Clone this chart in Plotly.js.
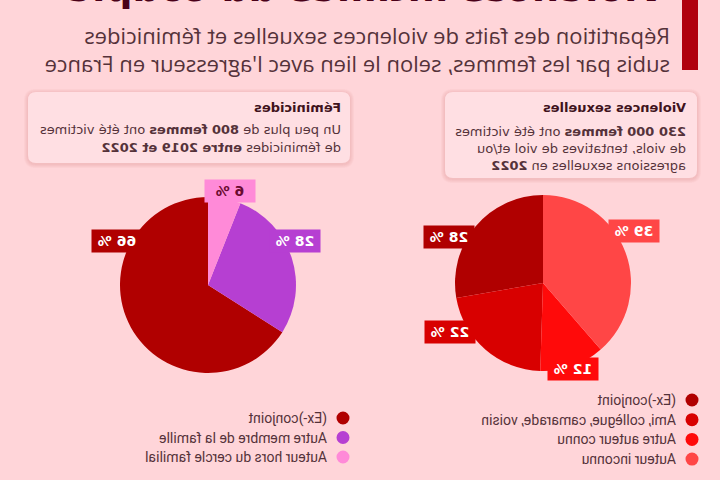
<!DOCTYPE html>
<html>
<head>
<meta charset="utf-8">
<script src="https://cdn.plot.ly/plotly-3.0.1.min.js"></script>
<style>
  html, body { margin: 0; padding: 0; background: #ffd5d9; }
  #chart { width: 720px; height: 480px; transform: scaleX(-1); transform-origin: center; }
</style>
</head>
<body>
<div id="chart"></div>
<script>
// ---------- DATA ----------
const vsTitle = "Violences sexuelles";
const vsLabels = ["(Ex-)conjoint", "Ami, collègue, camarade, voisin", "Autre auteur connu", "Auteur inconnu"];
const vsValues = [28, 22, 12, 39];
const vsColors = ["#b00000", "#d80000", "#ff0a0a", "#ff4646"];

const femTitle = "Féminicides";
const femLabels = ["(Ex-)conjoint", "Autre membre de la famille", "Auteur hors du cercle familial"];
const femValues = [66, 28, 6];
const femColors = ["#b00000", "#b63fd2", "#ff8ad8"];

const mainTitle = "Violences intimes du couple";
const subtitleLines = ["Répartition des faits de violences sexuelles et féminicides",
                       "subis par les femmes, selon le lien avec l'agresseur en France"];
const vsNote = ["<b>230 000 femmes</b> ont été victimes", "de viols, tentatives de viol et/ou", "agressions sexuelles en <b>2022</b>"];
const femNote = ["Un peu plus de <b>800 femmes</b> ont été victimes", "de féminicides <b>entre 2019 et 2022</b>"];

// ---------- LAYOUT HELPERS ----------
const W = 720, H = 480;
const X = p => p / W;
const Y = p => 1 - p / H;
const dark = "#40131c";
const textCol = "#55323a";

function rrect(x0, y0, x1, y1, r) {
  return `M ${X(x0 + r)} ${Y(y0)} L ${X(x1 - r)} ${Y(y0)} Q ${X(x1)} ${Y(y0)} ${X(x1)} ${Y(y0 + r)} ` +
         `L ${X(x1)} ${Y(y1 - r)} Q ${X(x1)} ${Y(y1)} ${X(x1 - r)} ${Y(y1)} ` +
         `L ${X(x0 + r)} ${Y(y1)} Q ${X(x0)} ${Y(y1)} ${X(x0)} ${Y(y1 - r)} ` +
         `L ${X(x0)} ${Y(y0 + r)} Q ${X(x0)} ${Y(y0)} ${X(x0 + r)} ${Y(y0)} Z`;
}

const shapes = [];
const annotations = [];

// header bar
shapes.push({type: "rect", xref: "paper", yref: "paper", x0: X(22), x1: X(38), y0: Y(70), y1: Y(-5),
             fillcolor: "#b0000e", line: {width: 0}});

// panels with soft shadow
function panel(x0, y0, x1, y1) {
  for (let i = 4; i >= 1; i--) {
    shapes.push({type: "path", xref: "paper", yref: "paper", path: rrect(x0 - i, y0 - i + 1, x1 + i, y1 + i + 1, 8 + i),
                 fillcolor: "rgba(200,90,100,0.05)", line: {width: 0}});
  }
  shapes.push({type: "path", xref: "paper", yref: "paper", path: rrect(x0, y0, x1, y1, 8),
               fillcolor: "#ffdfe3", line: {width: 0}});
}
panel(23, 92, 275, 178);
panel(370, 92, 692, 163);

function txt(text, x, y, size, color, family, extra) {
  annotations.push(Object.assign({text: text, x: X(x), y: Y(y), xref: "paper", yref: "paper",
    xanchor: "left", yanchor: "middle", showarrow: false, align: "left",
    font: {size: size, color: color, family: family}}, extra || {}));
}

// title (mostly cut off at the top) and subtitle
txt("<b>" + mainTitle + "</b>", 52, -12, 38, "#4a0018", "DejaVu Sans");
subtitleLines.forEach((l, i) => txt(l, 48, 35 + i * 28, 22, textCol, "Open Sans"));

// panel texts
txt("<b>" + vsTitle + "</b>", 32, 107, 13, dark, "DejaVu Sans");
vsNote.forEach((l, i) => txt(l, 32, 131 + i * 17, 13, textCol, "DejaVu Sans"));
txt("<b>" + femTitle + "</b>", 377, 108, 13, dark, "DejaVu Sans");
femNote.forEach((l, i) => txt(l, 377, 130 + i * 17, 13, textCol, "DejaVu Sans"));

// slice value labels (placement of the callouts, in px)
const vsLabelPos = [[271, 237], [270, 332], [147, 369], [86, 231]];
const femLabelPos = [[603, 241], [425, 241], [490, 191]];
function valueLabels(values, colors, pos, textColors) {
  values.forEach((v, i) => {
    annotations.push({text: "<b>" + v + " %</b>", x: X(pos[i][0]), y: Y(pos[i][1]), xref: "paper", yref: "paper",
      xanchor: "center", yanchor: "middle", showarrow: false, bgcolor: colors[i], borderpad: 2,
      width: 46, height: 18,
      font: {size: 14, color: textColors[i], family: "DejaVu Sans"}});
  });
}
valueLabels(vsValues, vsColors, vsLabelPos, ["#fff", "#fff", "#fff", "#fff"]);
valueLabels(femValues, femColors, femLabelPos, ["#fff", "#fff", "#6a0a30"]);

// legends
function legend(labels, colors, dotX, y0, step) {
  labels.forEach((l, i) => {
    const y = y0 + i * step;
    shapes.push({type: "circle", xref: "paper", yref: "paper", x0: X(dotX - 6.5), x1: X(dotX + 6.5),
                 y0: Y(y + 6.5), y1: Y(y - 6.5), fillcolor: colors[i], line: {width: 0}});
    txt(l, dotX + 14, y, 14, textCol, "Roboto");
  });
}
legend(vsLabels, vsColors, 28, 400, 19.7);
legend(femLabels, femColors, 377, 418, 19.5);

// ---------- TRACES ----------
const pieBase = {type: "pie", sort: false, direction: "clockwise", rotation: 0, textinfo: "none",
                 hoverinfo: "none", showlegend: false};
const traces = [
  Object.assign({}, pieBase, {labels: vsLabels, values: vsValues, marker: {colors: vsColors, line: {width: 0}},
    domain: {x: [X(89), X(265)], y: [Y(371), Y(195)]}}),
  Object.assign({}, pieBase, {labels: femLabels, values: femValues, marker: {colors: femColors, line: {width: 0}},
    domain: {x: [X(424), X(600)], y: [Y(373), Y(197)]}})
];

const layout = {
  width: W, height: H, margin: {l: 0, r: 0, t: 0, b: 0},
  paper_bgcolor: "#ffd5d9", plot_bgcolor: "#ffd5d9",
  shapes: shapes, annotations: annotations, showlegend: false
};

Plotly.newPlot("chart", traces, layout, {staticPlot: true, displayModeBar: false});
</script>
</body>
</html>
